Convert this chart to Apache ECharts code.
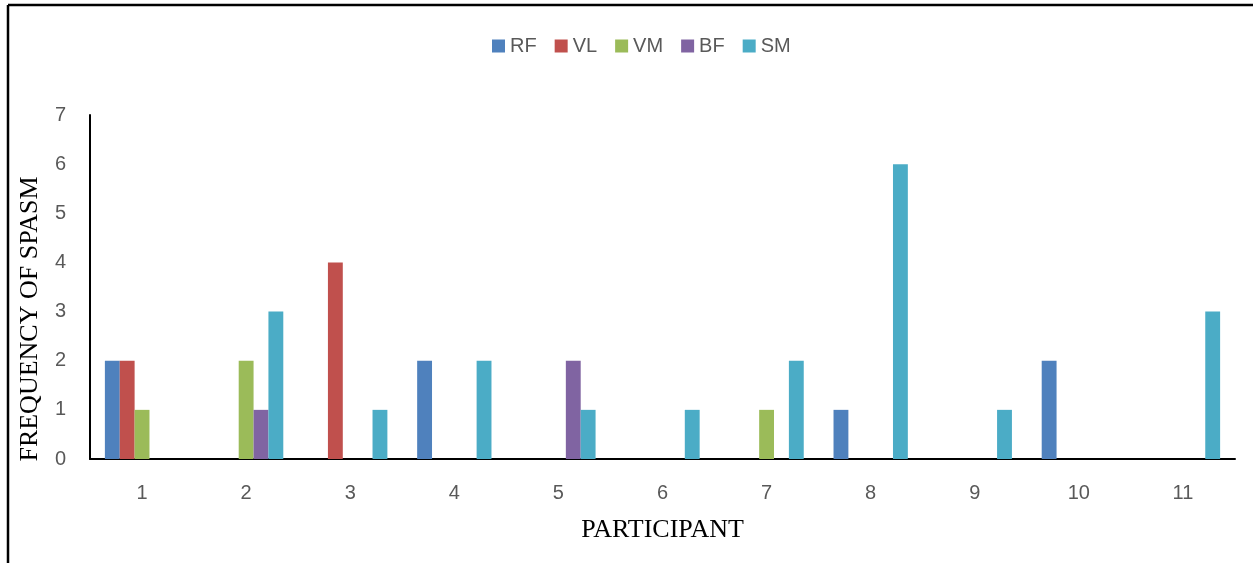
<!DOCTYPE html>
<html>
<head>
<meta charset="utf-8">
<script src="https://cdn.jsdelivr.net/npm/echarts@6/dist/echarts.min.js"></script>
<style>
  html, body { margin: 0; padding: 0; background: #fff; }
  #chart { width: 1253px; height: 563px; }
</style>
</head>
<body>
<div id="chart"></div>
<script>
// Participants on the x axis
const participants = ['1', '2', '3', '4', '5', '6', '7', '8', '9', '10', '11'];

// Spasm counts per muscle for each participant
const rf = [2, 0, 0, 2, 0, 0, 0, 1, 0, 2, 0];
const vl = [2, 0, 4, 0, 0, 0, 0, 0, 0, 0, 0];
const vm = [1, 2, 0, 0, 0, 0, 1, 0, 0, 0, 0];
const bf = [0, 1, 0, 0, 2, 0, 0, 0, 0, 0, 0];
const sm = [0, 3, 1, 2, 1, 1, 2, 6, 1, 0, 3];

const muscles = [
  { name: 'RF', data: rf, color: '#4F81BD' },
  { name: 'VL', data: vl, color: '#C0504D' },
  { name: 'VM', data: vm, color: '#9BBB59' },
  { name: 'BF', data: bf, color: '#8064A2' },
  { name: 'SM', data: sm, color: '#4BACC6' }
];

const chart = echarts.init(document.getElementById('chart'), null, { renderer: 'canvas' });

chart.setOption({
  animation: false,
  backgroundColor: '#fff',
  legend: {
    top: 31,
    left: 487,
    itemWidth: 13,
    itemHeight: 13,
    itemGap: 18,
    icon: 'rect',
    textStyle: { color: '#595959', fontSize: 20, fontFamily: 'Liberation Sans' },
    data: muscles.map(m => m.name)
  },
  grid: { left: 90, right: 18, top: 115, bottom: 104, containLabel: false },
  xAxis: {
    type: 'category',
    data: participants,
    name: 'PARTICIPANT',
    nameLocation: 'middle',
    nameGap: 58,
    nameTextStyle: { color: '#000', fontSize: 26, fontFamily: 'Liberation Serif' },
    axisLine: { lineStyle: { color: '#000', width: 2 } },
    axisTick: { show: false },
    axisLabel: { color: '#595959', fontSize: 20, fontFamily: 'Liberation Sans', margin: 24 }
  },
  yAxis: {
    type: 'value',
    min: 0,
    max: 7,
    interval: 1,
    axisLine: { show: true, lineStyle: { color: '#000', width: 2 } },
    axisTick: { show: false },
    splitLine: { show: false },
    axisLabel: { color: '#595959', fontSize: 20, fontFamily: 'Liberation Sans', margin: 24 }
  },
  series: muscles.map(m => ({
    name: m.name,
    type: 'bar',
    data: m.data,
    barGap: '0%',
    barCategoryGap: '28.6%',
    itemStyle: { color: m.color }
  })),
  graphic: [
    // frame edges
    { type: 'line', shape: { x1: 8, y1: 5, x2: 1253, y2: 5 }, style: { stroke: '#000', lineWidth: 2.5 } },
    { type: 'line', shape: { x1: 8, y1: 5, x2: 8, y2: 563 }, style: { stroke: '#000', lineWidth: 2.5 } },
    // y axis title
    {
      type: 'text',
      x: 30,
      y: 319,
      rotation: Math.PI / 2,
      style: {
        text: 'FREQUENCY OF SPASM',
        fill: '#000',
        font: '26px "Liberation Serif"',
        align: 'center',
        verticalAlign: 'middle'
      }
    }
  ]
});
</script>
</body>
</html>
